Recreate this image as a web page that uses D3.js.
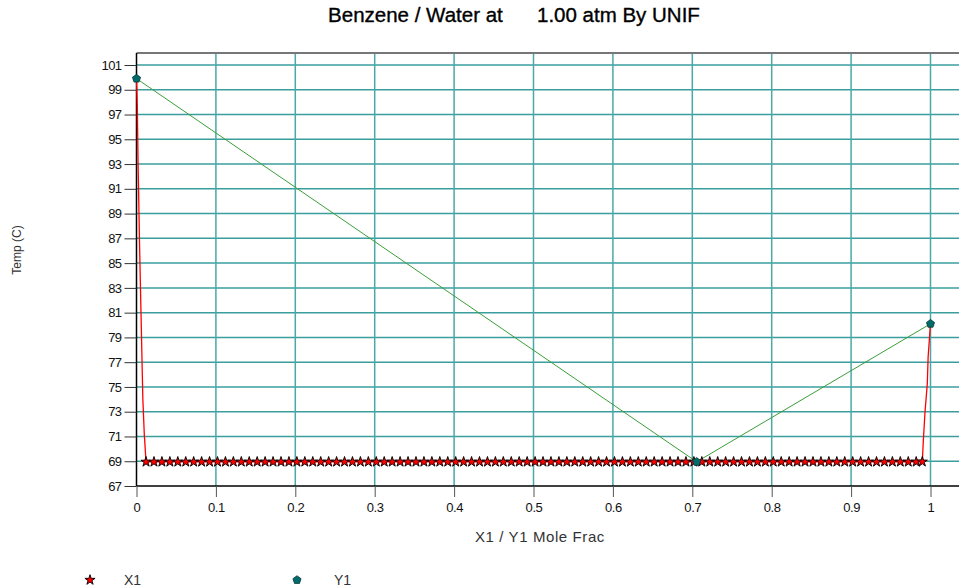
<!DOCTYPE html>
<html>
<head>
  <meta charset="utf-8">
  <title>Benzene / Water T-xy</title>
  <script src="https://d3js.org/d3.v7.min.js"></script>
  <style>
    body { margin: 0; background: #fff; }
    text { font-family: "Liberation Sans", Arial, sans-serif; }
  </style>
</head>
<body>
<svg id="chart"></svg>
<script>
// tick values
const xTicks = [0, 0.1, 0.2, 0.3, 0.4, 0.5, 0.6, 0.7, 0.8, 0.9, 1];
const yTicks = [67, 69, 71, 73, 75, 77, 79, 81, 83, 85, 87, 89, 91, 93, 95, 97, 99, 101];

// X1 series (liquid) - mole frac / temp
const x1Frac = [0, 0.001, 0.002, 0.004, 0.006, 0.008, 0.0098, 0.012,
  0.022, 0.032, 0.042, 0.052, 0.062, 0.072, 0.082, 0.092, 0.102,
  0.112, 0.122, 0.132, 0.142, 0.152, 0.162, 0.172, 0.182, 0.192, 0.202,
  0.212, 0.222, 0.232, 0.242, 0.252, 0.262, 0.272, 0.282, 0.292, 0.302,
  0.312, 0.322, 0.332, 0.342, 0.352, 0.362, 0.372, 0.382, 0.392, 0.402,
  0.412, 0.422, 0.432, 0.442, 0.452, 0.462, 0.472, 0.482, 0.492, 0.502,
  0.512, 0.522, 0.532, 0.542, 0.552, 0.562, 0.572, 0.582, 0.592, 0.602,
  0.612, 0.622, 0.632, 0.642, 0.652, 0.662, 0.672, 0.682, 0.692, 0.702,
  0.712, 0.722, 0.732, 0.742, 0.752, 0.762, 0.772, 0.782, 0.792, 0.802,
  0.812, 0.822, 0.832, 0.842, 0.852, 0.862, 0.872, 0.882, 0.892, 0.902,
  0.912, 0.922, 0.932, 0.942, 0.952, 0.962, 0.972, 0.982, 0.9897,
  0.991, 0.993, 0.996, 0.997, 0.9994, 1];
const x1Temp = [99.9, 97.7, 93, 86, 80, 74, 71.2, 68.95,
  68.95, 68.95, 68.95, 68.95, 68.95, 68.95, 68.95, 68.95, 68.95,
  68.95, 68.95, 68.95, 68.95, 68.95, 68.95, 68.95, 68.95, 68.95, 68.95,
  68.95, 68.95, 68.95, 68.95, 68.95, 68.95, 68.95, 68.95, 68.95, 68.95,
  68.95, 68.95, 68.95, 68.95, 68.95, 68.95, 68.95, 68.95, 68.95, 68.95,
  68.95, 68.95, 68.95, 68.95, 68.95, 68.95, 68.95, 68.95, 68.95, 68.95,
  68.95, 68.95, 68.95, 68.95, 68.95, 68.95, 68.95, 68.95, 68.95, 68.95,
  68.95, 68.95, 68.95, 68.95, 68.95, 68.95, 68.95, 68.95, 68.95, 68.95,
  68.95, 68.95, 68.95, 68.95, 68.95, 68.95, 68.95, 68.95, 68.95, 68.95,
  68.95, 68.95, 68.95, 68.95, 68.95, 68.95, 68.95, 68.95, 68.95, 68.95,
  68.95, 68.95, 68.95, 68.95, 68.95, 68.95, 68.95, 68.95, 68.96,
  70.7, 72.9, 75.3, 77.4, 79.6, 80.1];
// which X1 points carry a star marker
const x1Marked = x1Frac.map((d, i) => i >= 7 && i <= 105);

// Y1 series (vapour)
const y1Frac = [0, 0.7055, 1];
const y1Temp = [99.9, 68.95, 80.1];

const width = 959, height = 587;
const x = d3.scaleLinear().domain([0, 1]).range([136.5, 930.5]);
const y = d3.scaleLinear().domain([67, 101]).range([486, 65]);
const plotRight = 959, plotTop = 53;

const svg = d3.select("#chart").attr("width", width).attr("height", height);

// grid
svg.append("g").selectAll("line")
  .data(yTicks.slice(1))
  .join("line")
  .attr("x1", x(0)).attr("x2", plotRight)
  .attr("y1", d => y(d)).attr("y2", d => y(d))
  .attr("stroke", "#3a9e9e").attr("stroke-width", 1.5);
svg.append("g").selectAll("line")
  .data(xTicks.slice(1))
  .join("line")
  .attr("x1", d => x(d)).attr("x2", d => x(d))
  .attr("y1", plotTop).attr("y2", y(67))
  .attr("stroke", "#4aa8a8").attr("stroke-width", 1.5);

// frame top
svg.append("line")
  .attr("x1", x(0)).attr("x2", plotRight).attr("y1", plotTop).attr("y2", plotTop)
  .attr("stroke", "#777").attr("stroke-width", 2);

// axes
const yAxis = d3.axisLeft(y).tickValues(yTicks).tickSize(12).tickPadding(3).tickFormat(d3.format("d"));
const gy = svg.append("g").attr("transform", `translate(${x(0)},0)`).call(yAxis);
gy.select(".domain").attr("d", `M0,${plotTop}V${y(67)}`).attr("stroke", "#000").attr("stroke-width", 1.5);
gy.selectAll(".tick line").attr("stroke", "#333");
gy.selectAll(".tick text").attr("font-size", 13).attr("fill", "#111")
  .attr("letter-spacing", "-0.6px")
  .attr("font-family", "Liberation Sans, Arial, sans-serif");

const xAxis = d3.axisBottom(x).tickValues(xTicks).tickSize(11).tickPadding(6)
  .tickFormat(d => d === 0 || d === 1 ? d3.format("d")(d) : d3.format(".1f")(d));
const gx = svg.append("g").attr("transform", `translate(0,${y(67)})`).call(xAxis);
gx.select(".domain").attr("d", `M${x(0)},0H${plotRight}`).attr("stroke", "#000").attr("stroke-width", 1.5);
gx.selectAll(".tick line").attr("stroke", "#555");
gx.selectAll(".tick text").attr("font-size", 13).attr("fill", "#111")
  .attr("letter-spacing", "-0.4px")
  .attr("font-family", "Liberation Sans, Arial, sans-serif");

// lines
const x1Pts = x1Frac.map((f, i) => [f, x1Temp[i]]);
const y1Pts = y1Frac.map((f, i) => [f, y1Temp[i]]);
const line = d3.line().x(d => x(d[0])).y(d => y(d[1]));

svg.append("path").datum(y1Pts).attr("d", line)
  .attr("fill", "none").attr("stroke", "#3a9e3a").attr("stroke-width", 1);
svg.append("path").datum(x1Pts).attr("d", line)
  .attr("fill", "none").attr("stroke", "#ff0000").attr("stroke-width", 1.3);

// markers
const star = d3.symbol().type(d3.symbolStar).size(32);
function pentagon(r) {
  const pts = d3.range(5).map(k => {
    const a = -Math.PI / 2 + k * 2 * Math.PI / 5;
    return [r * Math.cos(a), r * Math.sin(a)];
  });
  return "M" + pts.join("L") + "Z";
}

svg.append("g").selectAll("path")
  .data(x1Pts.filter((d, i) => x1Marked[i]))
  .join("path")
  .attr("d", star)
  .attr("transform", d => `translate(${x(d[0])},${y(d[1])})`)
  .attr("fill", "#ff0000").attr("stroke", "#000").attr("stroke-width", 0.9);

svg.append("g").selectAll("path")
  .data(y1Pts)
  .join("path")
  .attr("d", pentagon(4.3))
  .attr("transform", d => `translate(${x(d[0])},${y(d[1])})`)
  .attr("fill", "#006b6b").attr("stroke", "#002f2f").attr("stroke-width", 0.7);

// title and labels
svg.append("text")
  .attr("x", 514).attr("y", 22)
  .attr("text-anchor", "middle")
  .attr("font-size", 20.5).attr("fill", "#000")
  .attr("stroke", "#000").attr("stroke-width", 0.35)
  .style("white-space", "pre")
  .text("Benzene / Water at      1.00 atm By UNIF");

svg.append("text")
  .attr("transform", `translate(21,250) rotate(-90)`)
  .attr("text-anchor", "middle")
  .attr("font-size", 12).attr("fill", "#333")
  .text("Temp (C)");

svg.append("text")
  .attr("x", 540).attr("y", 542)
  .attr("text-anchor", "middle")
  .attr("font-size", 15).attr("fill", "#333")
  .attr("letter-spacing", "0.6px")
  .text("X1 / Y1 Mole Frac");

// legend
const legend = svg.append("g");
legend.append("path").attr("d", star)
  .attr("transform", "translate(90,580)")
  .attr("fill", "#ff0000").attr("stroke", "#000").attr("stroke-width", 0.9);
legend.append("text").attr("x", 124).attr("y", 585)
  .attr("font-size", 14).attr("fill", "#333").text("X1");
legend.append("path").attr("d", pentagon(4.3))
  .attr("transform", "translate(297,580)")
  .attr("fill", "#006b6b").attr("stroke", "#002f2f").attr("stroke-width", 0.7);
legend.append("text").attr("x", 334).attr("y", 585)
  .attr("font-size", 14).attr("fill", "#333").text("Y1");
</script>
</body>
</html>
